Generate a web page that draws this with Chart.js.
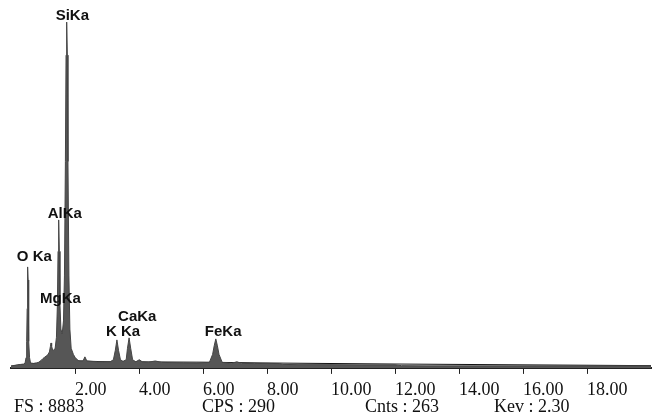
<!DOCTYPE html>
<html>
<head>
<meta charset="utf-8">
<script src="https://cdn.jsdelivr.net/npm/chart.js@4/dist/chart.umd.min.js"></script>
<style>
  html, body { margin: 0; padding: 0; background: #fff; }
  #wrap { width: 654px; height: 417px; position: relative; }
</style>
</head>
<body>
<div id="wrap"><canvas id="edx"></canvas></div>
<script>
// spectrum, energy in keV and counts
const energy = [
  0.00, 0.10, 0.20, 0.30, 0.40, 0.44, 0.47, 0.49, 0.505, 0.515, 0.525, 0.535, 0.545, 0.56, 0.58, 0.61,
  0.70, 0.80, 0.87, 0.95, 1.00, 1.05, 1.10, 1.15, 1.20, 1.23, 1.25, 1.27, 1.30,
  1.33, 1.38, 1.42, 1.45, 1.47, 1.49, 1.51, 1.53, 1.56, 1.60,
  1.64, 1.67, 1.70, 1.72, 1.74, 1.76, 1.78, 1.81, 1.84, 1.88, 1.95, 2.00, 2.05, 2.10,
  2.15, 2.25, 2.31, 2.37, 2.50, 2.70, 2.90, 3.10, 3.20, 3.26, 3.31, 3.36, 3.42, 3.50,
  3.60, 3.64, 3.69, 3.74, 3.80, 3.90, 4.01, 4.10, 4.30, 4.51, 4.70, 5.00, 5.40, 5.80,
  6.20, 6.30, 6.35, 6.40, 6.45, 6.50, 6.60, 6.90, 7.06, 7.20, 7.60, 8.00, 8.40,
  8.50, 9.00, 10.00, 11.00, 12.00, 12.20, 13.00, 16.00, 20.00
];
const counts = [
  50, 60, 75, 85, 95, 120, 250, 650, 1450, 2150, 2470, 2150, 1450, 650, 250, 120,
  110, 120, 140, 190, 230, 260, 290, 320, 390, 520, 610, 530, 440,
  430, 480, 750, 1550, 2850, 3620, 2850, 1550, 950, 830,
  1150, 2250, 5050, 7650, 8460, 7650, 5050, 2250, 950, 480, 330, 260, 220, 180,
  170, 170, 270, 170, 160, 150, 150, 150, 200, 430, 685, 430, 200, 160,
  200, 480, 735, 480, 200, 150, 200, 150, 140, 170, 135, 130, 125, 120,
  135, 330, 540, 710, 540, 330, 135, 115, 150, 110, 105, 110, 105,
  85, 80, 80, 75, 75, 55, 50, 50, 50
];

// fitted background curve
const bgEnergy = [0.05, 0.87, 1.30, 1.80, 2.10, 3.00, 6.00, 8.00, 12.00, 20.00];
const bgCounts = [50, 120, 340, 270, 170, 150, 140, 120, 95, 55];

// peak labels
const peakNames = ['O Ka', 'MgKa', 'AlKa', 'SiKa', 'K Ka', 'CaKa', 'FeKa'];
const peakEnergy = [0.525, 1.25, 1.49, 1.74, 3.31, 3.69, 6.40];
const peakLabelCounts = [2620, 1590, 3670, 8510, 780, 1150, 780];

const xTicks = [2, 4, 6, 8, 10, 12, 14, 16, 18];
const footer = ['FS : 8883', 'CPS : 290', 'Cnts : 263', 'Kev : 2.30'];

const peakLabels = {
  id: 'peakLabels',
  afterDatasetsDraw(chart) {
    const { ctx, scales: { x, y } } = chart;
    ctx.save();
    ctx.fillStyle = '#111';
    ctx.font = 'bold 15px "Liberation Sans", Arial, sans-serif';
    ctx.textAlign = 'left';
    ctx.textBaseline = 'alphabetic';
    peakNames.forEach((name, i) => {
      ctx.fillText(name, x.getPixelForValue(peakEnergy[i]) - 11, y.getPixelForValue(peakLabelCounts[i]));
    });
    ctx.restore();
  },
  afterDraw(chart) {
    const { ctx } = chart;
    const lefts = [14, 202, 365, 494];
    ctx.save();
    ctx.fillStyle = '#111';
    ctx.font = '18px "Liberation Serif", "Times New Roman", serif';
    ctx.textAlign = 'left';
    ctx.textBaseline = 'alphabetic';
    footer.forEach((t, i) => ctx.fillText(t, lefts[i], 412));
    ctx.restore();
  }
};

new Chart(document.getElementById('edx'), {
  type: 'line',
  data: {
    datasets: [
      {
        label: 'spectrum',
        data: energy.map((e, i) => ({ x: e, y: counts[i] })),
        fill: 'origin',
        backgroundColor: '#565656',
        borderColor: '#444444',
        borderWidth: 1,
        pointRadius: 0,
        tension: 0
      },
      {
        label: 'background',
        data: bgEnergy.map((e, i) => ({ x: e, y: bgCounts[i] })),
        fill: false,
        borderColor: '#111111',
        borderWidth: 1,
        pointRadius: 0,
        tension: 0
      }
    ]
  },
  options: {
    responsive: true,
    maintainAspectRatio: false,
    animation: false,
    layout: { padding: { left: 11, right: 3, top: 0, bottom: 10.5 } },
    plugins: { legend: { display: false }, tooltip: { enabled: false } },
    scales: {
      x: {
        type: 'linear',
        min: 0,
        max: 20,
        afterBuildTicks: axis => { axis.ticks = xTicks.map(v => ({ value: v })); },
        grid: { drawOnChartArea: false, drawTicks: true, tickLength: 6, color: '#222', lineWidth: 1 },
        border: { display: true, color: '#222', width: 2 },
        ticks: {
          align: 'start',
          padding: 5.5,
          color: '#111',
          font: { family: '"Liberation Serif", "Times New Roman", serif', size: 18 },
          callback: v => Number(v).toFixed(2)
        }
      },
      y: { display: false, min: 0, max: 9000 }
    }
  },
  plugins: [peakLabels]
});
</script>
</body>
</html>
